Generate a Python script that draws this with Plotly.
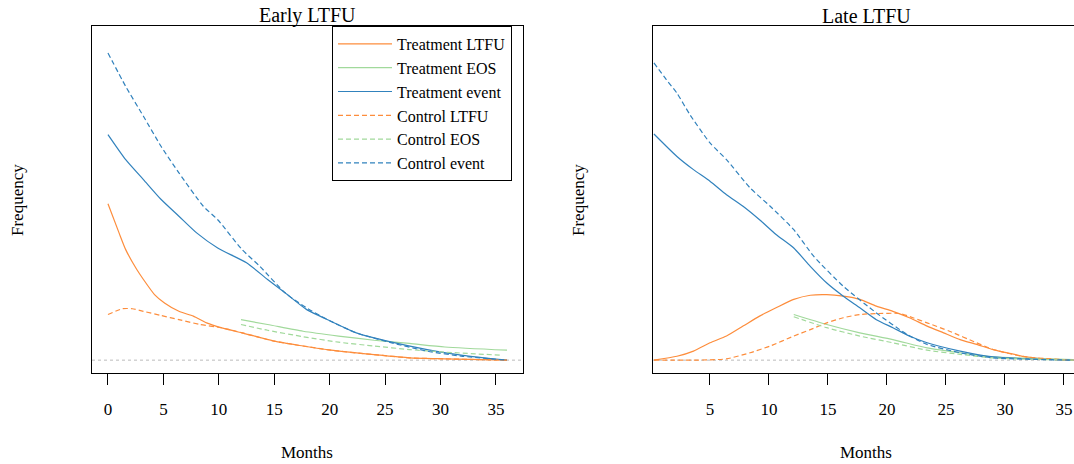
import plotly.graph_objects as go

# ---------------- data ----------------
# Early LTFU panel
early_trt_ltfu_x = [0, 1, 1.6, 2.6, 3.2, 4.2, 5.1, 6.4, 7.7, 8.9, 10.2, 12.1, 15, 17.6, 20.1, 24, 27.2, 30.4, 36]
early_trt_ltfu_y = [48.7, 39.6, 34.4, 28.2, 25.1, 20.4, 17.8, 15.2, 13.7, 11.6, 10.1, 8.5, 5.9, 4.4, 3.1, 1.7, 0.7, 0.4, 0]
early_trt_eos_x = [12, 14.4, 17.6, 20.8, 24, 27.2, 30.4, 36]
early_trt_eos_y = [12.6, 11.1, 9.0, 7.5, 6.2, 5.2, 4.1, 3.1]
early_trt_event_x = [0, 1.6, 3.2, 4.8, 6.4, 8, 9.9, 12.5, 14.4, 16, 17.9, 20.1, 22.4, 25.6, 28.8, 32, 36]
early_trt_event_y = [70.2, 62.4, 56.2, 50, 44.8, 39.6, 34.9, 30.3, 25.1, 20.9, 15.8, 12.1, 8.5, 5.6, 3.3, 1.5, 0]
early_ctrl_ltfu_x = [0, 1.3, 2.2, 3.2, 4.8, 6.4, 8.3, 10.2, 12.1, 15, 17.6, 20.1, 24, 27.2, 30.4, 36]
early_ctrl_ltfu_y = [14.2, 16, 16, 15.2, 13.9, 12.6, 11.1, 10.1, 8.5, 5.9, 4.4, 3.1, 1.7, 0.7, 0.4, 0]
early_ctrl_eos_x = [12, 14.4, 17.6, 20.8, 24, 27.2, 30.4, 35.6]
early_ctrl_eos_y = [11.1, 9.3, 7.3, 5.6, 4.4, 3.3, 2.5, 1.5]
early_ctrl_event_x = [0, 1.6, 3.2, 4.8, 6.4, 8.6, 9.9, 12.1, 13.7, 16, 17.9, 20.1, 22.4, 25.6, 28.8, 32, 36]
early_ctrl_event_y = [95.6, 85.2, 75.9, 66.5, 58.3, 47.9, 43.7, 34.4, 29.2, 20.9, 16.3, 12.1, 8.5, 5.4, 2.8, 1.2, 0]

# Late LTFU panel
late_trt_ltfu_x = [0.25, 2.2, 3.6, 5, 6.4, 7.8, 9.2, 10.6, 12.1, 13.5, 14.9, 16.3, 17.7, 19.1, 20.5, 21.9, 23.4, 24.8, 26.2, 27.6, 29, 30.4, 31.8, 33.2, 35.8]
late_trt_ltfu_y = [0, 1.2, 2.8, 5.4, 7.5, 10.6, 13.7, 16.3, 18.9, 20.2, 20.4, 19.9, 18.9, 16.8, 15.2, 13.2, 10.6, 8.5, 6.4, 4.9, 3.3, 2.1, 1.0, 0.4, 0]
late_trt_eos_x = [12.1, 14.9, 17.7, 20.5, 23.4, 26.2, 29, 35.8]
late_trt_eos_y = [14.2, 11.1, 8.5, 6.4, 3.8, 2.3, 1.0, 0.2]
late_trt_event_x = [0.25, 2.2, 3.6, 5, 6.4, 7.8, 9.2, 10.6, 12.1, 13.5, 14.9, 16.3, 17.7, 19.1, 20.5, 21.9, 23.4, 26.2, 29, 35.8]
late_trt_event_y = [70.4, 63.4, 59.3, 55.7, 51.5, 47.9, 43.7, 39.1, 34.9, 29.2, 24, 19.9, 16.3, 12.6, 10.1, 7.5, 5.4, 2.8, 1.0, 0]
late_ctrl_ltfu_x = [0.25, 3, 5, 6.4, 8.4, 10.1, 12.1, 13.5, 14.9, 16.3, 17.7, 19.1, 21.1, 22.2, 23.4, 25.3, 27.6, 29, 31.8, 35.8]
late_ctrl_ltfu_y = [0, 0, 0.1, 0.4, 2.3, 4.4, 7.5, 9.5, 11.6, 13.2, 14.2, 14.5, 14.5, 13.2, 11.6, 9.0, 5.4, 3.3, 1.0, 0]
late_ctrl_eos_x = [12.1, 14.9, 17.7, 20.5, 23.4, 26.2, 29, 35.8]
late_ctrl_eos_y = [13.5, 10.1, 7.5, 5.4, 3.1, 1.8, 0.7, 0]
late_ctrl_event_x = [0.25, 1.3, 2.2, 3.3, 5, 6.4, 8.4, 10.1, 12.1, 13.8, 16.3, 19.1, 21.7, 23.4, 26.2, 29, 35.8]
late_ctrl_event_y = [92.5, 87.3, 83.1, 76.4, 67.6, 62.4, 53.6, 47.9, 40.6, 32.3, 23.0, 14.7, 8.0, 4.9, 2.3, 0.7, 0]

series_names = ["Treatment LTFU", "Treatment EOS", "Treatment event",
                "Control LTFU", "Control EOS", "Control event"]
tick_vals = [0, 5, 10, 15, 20, 25, 30, 35]
panel_titles = ["Early LTFU", "Late LTFU"]

# ---------------- styling ----------------
ORANGE = "#FD8D3C"
GREEN = "#A1D99B"
BLUE = "#3182BD"
colors = [ORANGE, GREEN, BLUE, ORANGE, GREEN, BLUE]
dashes = ["solid", "solid", "solid", "5px,3px", "5px,3px", "5px,3px"]
FONT = "Liberation Serif"
W, H = 1074, 464

early = [(early_trt_ltfu_x, early_trt_ltfu_y), (early_trt_eos_x, early_trt_eos_y),
         (early_trt_event_x, early_trt_event_y), (early_ctrl_ltfu_x, early_ctrl_ltfu_y),
         (early_ctrl_eos_x, early_ctrl_eos_y), (early_ctrl_event_x, early_ctrl_event_y)]
late = [(late_trt_ltfu_x, late_trt_ltfu_y), (late_trt_eos_x, late_trt_eos_y),
        (late_trt_event_x, late_trt_event_y), (late_ctrl_ltfu_x, late_ctrl_ltfu_y),
        (late_ctrl_eos_x, late_ctrl_eos_y), (late_ctrl_event_x, late_ctrl_event_y)]

fig = go.Figure()
for i, (xs, ys) in enumerate(early):
    fig.add_trace(go.Scatter(x=xs, y=ys, mode="lines", name=series_names[i],
                             line=dict(color=colors[i], width=1.2, dash=dashes[i],
                                       shape="spline", smoothing=0.6),
                             xaxis="x", yaxis="y", showlegend=True))
for i, (xs, ys) in enumerate(late):
    fig.add_trace(go.Scatter(x=xs, y=ys, mode="lines", name=series_names[i],
                             line=dict(color=colors[i], width=1.2, dash=dashes[i],
                                       shape="spline", smoothing=0.6),
                             xaxis="x2", yaxis="y2", showlegend=False))

def px(v):
    return v / W

def py(v):
    return 1 - v / H

axis_common = dict(showgrid=False, zeroline=False, showline=True, linecolor="black",
                   linewidth=1)
xcommon = dict(axis_common, ticks="outside", ticklen=11, tickwidth=1, tickcolor="black",
               tickvals=tick_vals, tickfont=dict(family=FONT, size=17, color="black"),
               ticklabelstandoff=10)

fig.update_layout(
    width=W, height=H,
    margin=dict(l=0, r=0, t=0, b=0),
    paper_bgcolor="white", plot_bgcolor="white",
    font=dict(family=FONT, size=17, color="black"),
    xaxis=dict(xcommon, domain=[px(92), px(523)], range=[-1.44, 37.44], mirror=True, anchor="y"),
    yaxis=dict(axis_common, domain=[py(373), py(26)], range=[-4, 104], mirror=True,
               showticklabels=False, ticks="", anchor="x"),
    xaxis2=dict(xcommon, domain=[px(653), 1], range=[0.17, 35.85], mirror=True, anchor="y2"),
    yaxis2=dict(axis_common, domain=[py(373), py(26)], range=[-4, 104], mirror=False,
                showticklabels=False, ticks="", anchor="x2"),
    legend=dict(x=px(332), y=py(26), xanchor="left", yanchor="top",
                bgcolor="white", bordercolor="black", borderwidth=1,
                font=dict(family=FONT, size=16, color="black"),
                itemwidth=54, tracegroupgap=0,
                entrywidth=125, entrywidthmode="pixels"),
    showlegend=True,
)

# zero reference lines (dotted grey)
for xr, yr in [("x domain", "y"), ("x2 domain", "y2")]:
    fig.add_shape(type="line", xref=xr, yref=yr, x0=0, x1=1, y0=0, y1=0,
                  line=dict(color="#BBBBBB", width=1, dash="dot"), layer="below")

# titles and axis labels
annots = [
    dict(text=panel_titles[0], x=px(307), y=py(16), size=20),
    dict(text=panel_titles[1], x=px(866), y=py(16), size=20),
    dict(text="Months", x=px(307), y=py(452), size=17),
    dict(text="Months", x=px(866), y=py(452), size=17),
]
for a in annots:
    fig.add_annotation(text=a["text"], x=a["x"], y=a["y"], xref="paper", yref="paper",
                       showarrow=False, xanchor="center", yanchor="middle",
                       font=dict(family=FONT, size=a["size"], color="black"))
for xc in [17, 578]:
    fig.add_annotation(text="Frequency", x=px(xc), y=py(200), xref="paper", yref="paper",
                       showarrow=False, textangle=-90, xanchor="center", yanchor="middle",
                       font=dict(family=FONT, size=17, color="black"))

fig.write_html("out.html", config={"displayModeBar": False},
               post_script="document.body.style.margin='0px';document.body.style.overflow='hidden';")
